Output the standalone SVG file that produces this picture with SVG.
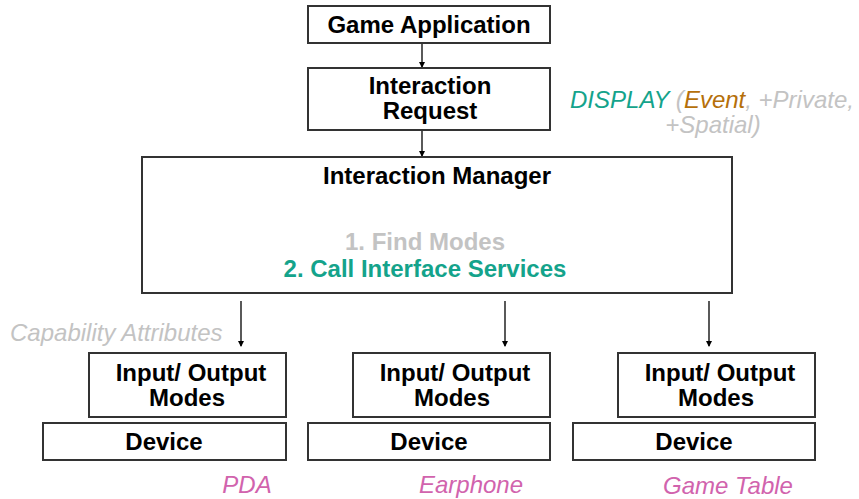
<svg xmlns="http://www.w3.org/2000/svg" width="859" height="499" viewBox="0 0 859 499">
<defs>
<marker id="ah" markerWidth="6" markerHeight="6" refX="5" refY="3" orient="auto" markerUnits="userSpaceOnUse">
<path d="M0,0 L6,3 L0,6 Z" fill="#000"/>
</marker>
<style>
.box{fill:#fff;stroke:#333;stroke-width:2}
.b{font-family:"Liberation Sans",Arial,sans-serif;font-weight:bold;font-size:24px;fill:#000;text-anchor:middle}
.i{font-family:"Liberation Sans",Arial,sans-serif;font-style:italic;font-size:24px}
.gray{fill:#c3c3c3}
.teal{fill:#14a38b}
.pink{fill:#d163ad}
.conn line{stroke:#000;stroke-width:1.3;marker-end:url(#ah)}
</style>
</defs>
<rect width="859" height="499" fill="#fff"/>
<g class="conn">
<line x1="422" y1="43" x2="422" y2="67"/>
<line x1="422" y1="130" x2="422" y2="156"/>
<line x1="241" y1="301" x2="241" y2="346"/>
<line x1="505" y1="301" x2="505" y2="346"/>
<line x1="709" y1="301" x2="709" y2="346"/>
</g>
<g id="game-application">
<rect class="box" x="308" y="6" width="242" height="37"/>
<text class="b" x="429" y="33">Game Application</text>
</g>
<g id="interaction-request">
<rect class="box" x="308" y="68" width="242" height="62"/>
<text class="b" x="430" y="94">Interaction</text>
<text class="b" x="430" y="119">Request</text>
</g>
<g id="display-label">
<text class="i" x="712" y="108" text-anchor="middle"><tspan class="teal">DISPLAY</tspan><tspan class="gray"> (</tspan><tspan fill="#b5700a">Event</tspan><tspan class="gray">, +Private,</tspan></text>
<text class="i gray" x="713" y="133" text-anchor="middle">+Spatial)</text>
</g>
<g id="interaction-manager">
<rect class="box" x="142" y="157" width="590" height="136"/>
<text class="b" x="437" y="184">Interaction Manager</text>
<text class="b" x="425" y="250" style="fill:#c3c3c3">1. Find Modes</text>
<text class="b" x="425" y="277" style="fill:#14a38b">2. Call Interface Services</text>
</g>
<g id="capability-attributes">
<text class="i gray" x="10" y="341">Capability Attributes</text>
</g>
<g id="io-modes-1">
<rect class="box" x="89" y="353" width="197" height="64"/>
<text class="b" x="191" y="381">Input/ Output</text>
<text class="b" x="187" y="406">Modes</text>
</g>
<g id="device-1">
<rect class="box" x="43" y="423" width="243" height="37"/>
<text class="b" x="164" y="450">Device</text>
</g>
<g id="io-modes-2">
<rect class="box" x="353" y="353" width="197" height="64"/>
<text class="b" x="455" y="381">Input/ Output</text>
<text class="b" x="452" y="406">Modes</text>
</g>
<g id="device-2">
<rect class="box" x="308" y="423" width="242" height="37"/>
<text class="b" x="429" y="450">Device</text>
</g>
<g id="io-modes-3">
<rect class="box" x="618" y="353" width="197" height="64"/>
<text class="b" x="720" y="381">Input/ Output</text>
<text class="b" x="716" y="406">Modes</text>
</g>
<g id="device-3">
<rect class="box" x="573" y="423" width="242" height="37"/>
<text class="b" x="694" y="450">Device</text>
</g>
<text class="i pink" x="247" y="493" text-anchor="middle">PDA</text>
<text class="i pink" x="471" y="493" text-anchor="middle">Earphone</text>
<text class="i pink" x="728" y="494" text-anchor="middle">Game Table</text>
</svg>
